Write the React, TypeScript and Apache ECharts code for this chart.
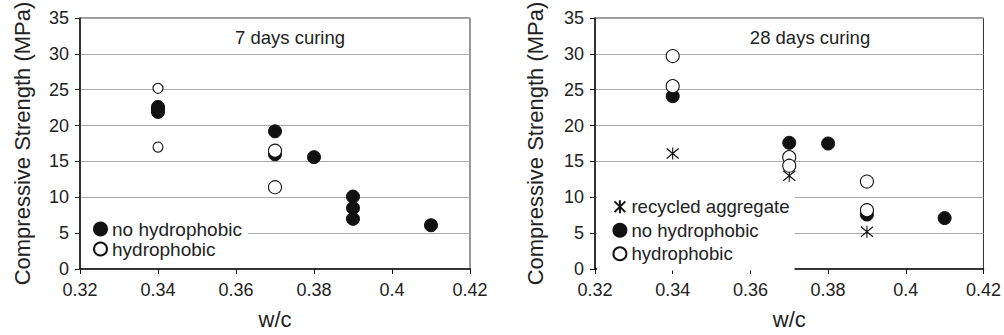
import React, { useEffect, useRef } from "react";
import * as echarts from "echarts";

// 7 days curing
const d7NoHydroX = [0.34, 0.34, 0.34, 0.37, 0.37, 0.38, 0.39, 0.39, 0.39, 0.41];
const d7NoHydroY = [22.6, 22.3, 21.9, 19.2, 16.0, 15.6, 10.1, 8.5, 7.0, 6.1];
const d7HydroX = [0.34, 0.34, 0.37, 0.37];
const d7HydroY = [25.2, 17.0, 16.5, 11.4];

// 28 days curing
const d28RecycledX = [0.34, 0.37, 0.39];
const d28RecycledY = [16.1, 13.0, 5.2];
const d28NoHydroX = [0.34, 0.37, 0.38, 0.39, 0.41];
const d28NoHydroY = [24.1, 17.6, 17.5, 7.6, 7.1];
const d28HydroX = [0.34, 0.34, 0.37, 0.37, 0.39, 0.39];
const d28HydroY = [29.7, 25.5, 15.6, 14.4, 12.2, 8.2];

const xMin = 0.32;
const xMax = 0.42;
const xStep = 0.02;
const yMin = 0;
const yMax = 35;
const yStep = 5;
const yTitle = "Compressive Strength (MPa)";
const xTitle = "w/c";
const panelTitles = ["7 days curing", "28 days curing"];

const FONT = "'Liberation Sans', Arial, sans-serif";
const TXT = "#222";

const zip = (xs: number[], ys: number[]) => xs.map((x, i) => [x, ys[i]]);

const STAR = "path://M0,0L10,10M10,0L0,10M5,-1L5,11";

export default function App() {
  const ref = useRef<HTMLDivElement>(null);
  useEffect(() => {
    document.body.style.margin = "0";
    const chart = echarts.init(ref.current!, null, { renderer: "svg" });
    const xAxisBase = (gi: number) => ({
      type: "value",
      gridIndex: gi,
      min: xMin,
      max: xMax,
      interval: xStep,
      name: xTitle,
      nameLocation: "middle",
      nameGap: 39,
      nameTextStyle: { fontFamily: FONT, fontSize: 22, color: TXT },
      axisLine: { lineStyle: { color: "#111", width: 1.5 } },
      axisTick: { show: true, inside: false, length: 5, lineStyle: { color: "#111" } },
      axisLabel: { fontFamily: FONT, fontSize: 18, color: TXT, margin: 12 },
      splitLine: { show: false },
    });
    const yAxisBase = (gi: number, gap: number) => ({
      type: "value",
      gridIndex: gi,
      min: yMin,
      max: yMax,
      interval: yStep,
      name: yTitle,
      nameLocation: "middle",
      nameGap: gap,
      nameTextStyle: { fontFamily: FONT, fontSize: 22, color: TXT },
      axisLine: { show: true, lineStyle: { color: "#111", width: 1.5 } },
      axisTick: { show: true, inside: false, length: 5, lineStyle: { color: "#111" } },
      axisLabel: { fontFamily: FONT, fontSize: 18, color: TXT, margin: 11 },
      splitLine: { show: true, lineStyle: { color: "#a8a8a8", width: 1.2 } },
    });
    const filled = { color: "#111", borderColor: "#111", borderWidth: 1, opacity: 1 };
    const hollow = { color: "#fff", borderColor: "#111", borderWidth: 1.1, opacity: 1 };
    chart.setOption({
      animation: false,
      grid: [
        { left: 80, right: 534, top: 18, bottom: 62, show: true, borderColor: "#333", borderWidth: 1 },
        { left: 595, right: 20, top: 18, bottom: 62, show: true, borderColor: "#333", borderWidth: 1 },
      ],
      xAxis: [xAxisBase(0), xAxisBase(1)],
      yAxis: [yAxisBase(0, 47), yAxisBase(1, 49)],
      legend: [
        {
          data: ["no hydrophobic", "hydrophobic"],
          orient: "vertical",
          left: 81,
          top: 214,
          padding: [5, 6, 5, 12],
          itemGap: 0,
          itemWidth: 13,
          itemHeight: 13,
          backgroundColor: "#fff",
          textStyle: { fontFamily: FONT, fontSize: 19, color: TXT, lineHeight: 20 },
        },
        {
          data: ["recycled aggregate", "no hydrophobic", "hydrophobic"],
          orient: "vertical",
          left: 597,
          top: 190,
          padding: [5, 5, 5, 15],
          itemGap: 0,
          itemWidth: 13,
          itemHeight: 13,
          backgroundColor: "#fff",
          textStyle: { fontFamily: FONT, fontSize: 18.6, color: TXT, lineHeight: 23.5 },
        },
      ],
      graphic: [
        {
          type: "text",
          x: 290,
          y: 37,
          style: { text: panelTitles[0], fontFamily: FONT, fontSize: 18.5, fill: TXT, textAlign: "center", textVerticalAlign: "middle" },
        },
        {
          type: "text",
          x: 810,
          y: 37,
          style: { text: panelTitles[1], fontFamily: FONT, fontSize: 18.5, fill: TXT, textAlign: "center", textVerticalAlign: "middle" },
        },
      ],
      series: [
        {
          name: "no hydrophobic",
          type: "scatter",
          xAxisIndex: 0,
          yAxisIndex: 0,
          symbol: "circle",
          symbolSize: 13,
          itemStyle: filled,
          data: zip(d7NoHydroX, d7NoHydroY),
        },
        {
          name: "hydrophobic",
          type: "scatter",
          xAxisIndex: 0,
          yAxisIndex: 0,
          symbol: "circle",
          symbolSize: (v: number[]) => (v[0] < 0.35 ? 10 : 13),
          itemStyle: hollow,
          data: zip(d7HydroX, d7HydroY),
        },
        {
          name: "recycled aggregate",
          type: "scatter",
          xAxisIndex: 1,
          yAxisIndex: 1,
          symbol: STAR,
          symbolSize: [12, 12],
          itemStyle: { color: "none", borderColor: "#111", borderWidth: 1.1, opacity: 1 },
          data: zip(d28RecycledX, d28RecycledY),
        },
        {
          name: "no hydrophobic",
          type: "scatter",
          xAxisIndex: 1,
          yAxisIndex: 1,
          symbol: "circle",
          symbolSize: 13,
          itemStyle: filled,
          data: zip(d28NoHydroX, d28NoHydroY),
        },
        {
          name: "hydrophobic",
          type: "scatter",
          xAxisIndex: 1,
          yAxisIndex: 1,
          symbol: "circle",
          symbolSize: 13,
          itemStyle: hollow,
          data: zip(d28HydroX, d28HydroY),
        },
      ],
    });
    return () => chart.dispose();
  }, []);
  return <div ref={ref} style={{ width: 1004, height: 335 }} />;
}
